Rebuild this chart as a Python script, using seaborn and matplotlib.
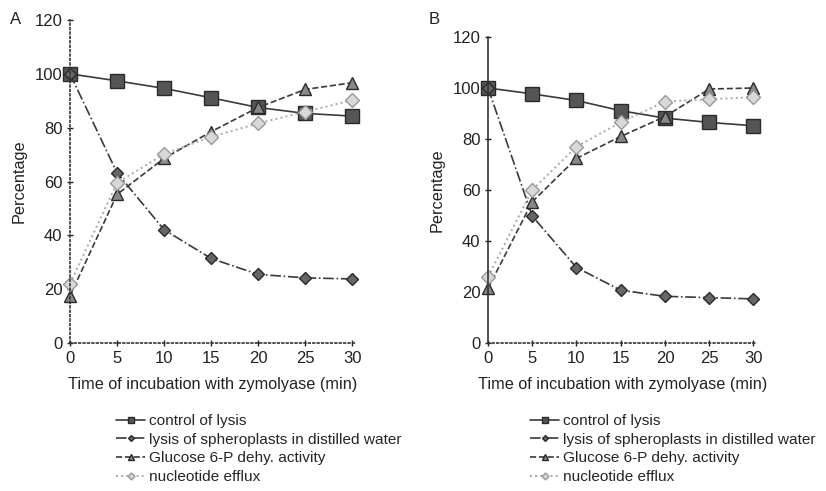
import matplotlib
matplotlib.use("Agg")
import matplotlib.pyplot as plt
import seaborn as sns
import pandas as pd

sns.set_theme(style="white")
plt.rcParams["font.family"] = ["Liberation Sans", "DejaVu Sans"]

time_min = [0, 5, 10, 15, 20, 25, 30]

series_names = [
    "control of lysis",
    "lysis of spheroplasts in distilled water",
    "Glucose 6-P dehy. activity",
    "nucleotide efflux",
]

# Panel A
a_control = [100, 97.4, 94.6, 91.1, 87.5, 85.3, 84.3]
a_lysis = [100, 63.2, 42.1, 31.4, 25.5, 24.2, 23.8]
a_g6pdh = [17.5, 55.2, 68.6, 78.5, 87.5, 94.2, 96.7]
a_nucleotide = [22.0, 59.5, 70.2, 76.6, 81.6, 85.9, 90.2]

# Panel B
b_control = [100, 97.7, 95.1, 91.1, 88.2, 86.5, 85.2]
b_lysis = [100, 49.8, 29.6, 20.7, 18.3, 17.8, 17.3]
b_g6pdh = [21.4, 55.4, 72.4, 81.0, 88.8, 99.6, 100]
b_nucleotide = [25.9, 60.0, 77.0, 86.5, 94.7, 95.6, 96.4]

y_ticks = [0, 20, 40, 60, 80, 100, 120]
x_ticks = [0, 5, 10, 15, 20, 25, 30]

styles = {
    series_names[0]: dict(color="#3a3a3a", ls="-", marker="s", ms=10, mfc="#555555", mec="#2a2a2a", lw=1.2),
    series_names[1]: dict(color="#3a3a3a", ls="-.", marker="D", ms=6, mfc="#666666", mec="#2a2a2a", lw=1.2),
    series_names[2]: dict(color="#3a3a3a", ls="--", marker="^", ms=8, mfc="#888888", mec="#2a2a2a", lw=1.2),
    series_names[3]: dict(color="#a8a8a8", ls=":", marker="D", ms=7, mfc="#d8d8d8", mec="#999999", lw=1.4),
}


def make_frame(values):
    rows = []
    for name, vals in zip(series_names, values):
        for t, v in zip(time_min, vals):
            rows.append({"time": t, "value": v, "series": name})
    return pd.DataFrame(rows)


fig = plt.figure(figsize=(8.26, 4.91), dpi=100)
W, H = 826, 491

ax_a = fig.add_axes([70 / W, 1 - 343 / H, (356 - 70) / W, (343 - 20) / H])
ax_b = fig.add_axes([488 / W, 1 - 343 / H, (757 - 488) / W, (343 - 37) / H])


def draw_panel(ax, values, left_style, legend_x):
    df = make_frame(values)
    for name in series_names:
        st = styles[name]
        sub = df[df["series"] == name]
        sns.lineplot(
            data=sub, x="time", y="value", ax=ax,
            color=st["color"], linestyle=st["ls"], linewidth=st["lw"],
            marker=st["marker"], markersize=st["ms"],
            markerfacecolor=st["mfc"], markeredgecolor=st["mec"],
            markeredgewidth=1.0, label=name, legend=False,
        )
    ax.set_xlim(0, 30.4)
    ax.set_ylim(0, 120)
    ax.set_xticks(x_ticks)
    ax.set_yticks(y_ticks)
    ax.set_xlabel("Time of incubation with zymolyase (min)", fontsize=11.7, color="#222222", labelpad=8)
    ax.set_ylabel("Percentage", fontsize=11.7, color="#222222", labelpad=6)
    ax.tick_params(axis="both", labelsize=12, colors="#222222", length=4, width=1,
                   direction="inout", left=True, bottom=True)
    for s in ["top", "right"]:
        ax.spines[s].set_visible(False)
    ax.spines["left"].set_linestyle(left_style)
    ax.spines["bottom"].set_linestyle(":")
    for s in ["left", "bottom"]:
        ax.spines[s].set_color("#333333")
        ax.spines[s].set_linewidth(1.2)
    ax.margins(x=0)
    for line in ax.get_lines():
        line.set_clip_on(False)

    handles = ax.get_lines()[:4]
    ax.legend(
        handles, series_names, loc="upper left",
        bbox_to_anchor=(legend_x / W, 1 - 408 / H),
        bbox_transform=fig.transFigure,
        frameon=False, fontsize=11.1, handlelength=1.9, handletextpad=0.2,
        labelspacing=0.3, markerscale=0.5, borderaxespad=0,
    )


draw_panel(ax_a, [a_control, a_lysis, a_g6pdh, a_nucleotide], ":", 110)
draw_panel(ax_b, [b_control, b_lysis, b_g6pdh, b_nucleotide], "-", 524)

fig.text(10 / W, 1 - 20 / H, "A", fontsize=12, color="#222222", va="center")
fig.text(429 / W, 1 - 19 / H, "B", fontsize=12, color="#222222", va="center")

fig.savefig("out.png", dpi=100, facecolor="white")
